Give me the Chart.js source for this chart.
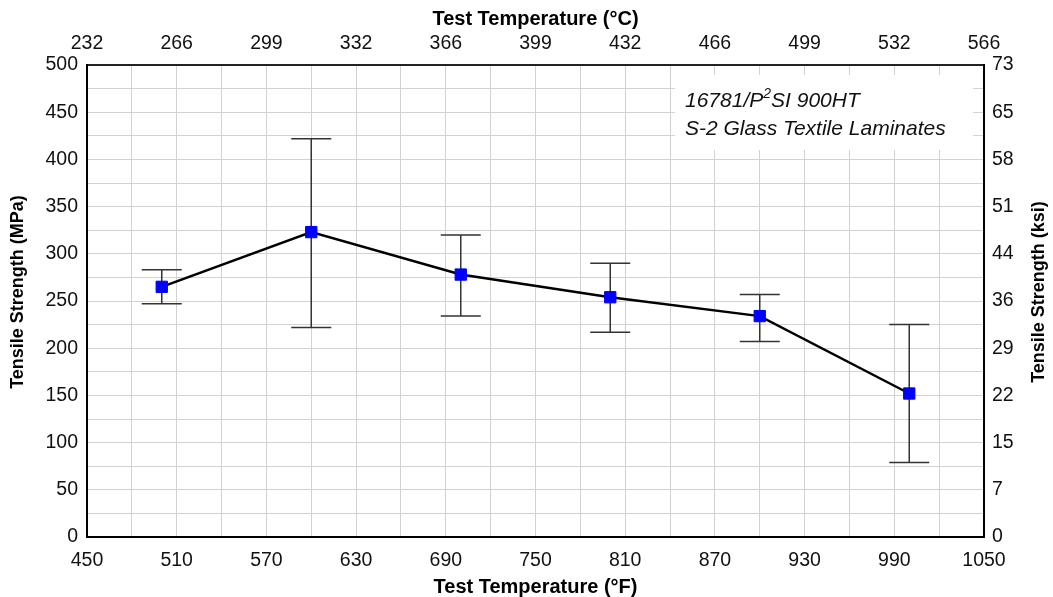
<!DOCTYPE html>
<html>
<head>
<meta charset="utf-8">
<script src="https://cdn.jsdelivr.net/npm/chart.js@4/dist/chart.umd.min.js"></script>
<style>
  html, body { margin: 0; padding: 0; background: #fff; }
  canvas { display: block; }
</style>
</head>
<body>
<canvas id="chart" width="1053" height="597"></canvas>
<script>
// test temperature (°F) and tensile strength (MPa)
const tempF = [500, 600, 700, 800, 900, 1000];
const strength = [265, 323, 278, 254, 234, 152];
const errHigh = [283, 422, 320, 290, 257, 225];
const errLow = [247, 222, 234, 217, 207, 79];

// secondary axis labels
const celsiusLabels = ['232', '266', '299', '332', '366', '399', '432', '466', '499', '532', '566'];
const ksiLabels = ['0', '7', '15', '22', '29', '36', '44', '51', '58', '65', '73'];

const FONT = "'Liberation Sans', Arial, sans-serif";
const tickFont = { family: FONT, size: 19.5, lineHeight: 1 };
const titleFont = { family: FONT, size: 20, weight: 'bold', lineHeight: 1 };
const gridColor = '#d2d2d2';

// draw the min/max bars behind the line
const errorBars = {
    id: 'errorBars',
    beforeDatasetsDraw(chart) {
        const ctx = chart.ctx;
        const x = chart.scales.x, y = chart.scales.y;
        ctx.save();
        ctx.strokeStyle = '#333';
        ctx.lineWidth = 1.5;
        tempF.forEach((t, i) => {
            const px = x.getPixelForValue(t);
            const top = y.getPixelForValue(errHigh[i]);
            const bot = y.getPixelForValue(errLow[i]);
            ctx.beginPath();
            ctx.moveTo(px, top); ctx.lineTo(px, bot);
            ctx.moveTo(px - 20, top); ctx.lineTo(px + 20, top);
            ctx.moveTo(px - 20, bot); ctx.lineTo(px + 20, bot);
            ctx.stroke();
        });
        ctx.restore();
    }
};

// material label + the two vertical axis titles (both read bottom to top)
const noteBox = {
    id: 'noteBox',
    afterDraw(chart) {
        const ctx = chart.ctx;
        const area = chart.chartArea;
        const right = area.right - 11, top = area.top + 10;
        const w = 298, h = 75;
        ctx.save();
        ctx.fillStyle = '#fff';
        ctx.fillRect(right - w, top, w, h);
        ctx.fillStyle = '#111';
        ctx.textBaseline = 'alphabetic';
        ctx.font = 'italic 21px ' + FONT;
        let tx = right - w + 10;
        const y1 = top + 32, y2 = top + 60;
        let part = '16781/P';
        ctx.fillText(part, tx, y1);
        tx += ctx.measureText(part).width;
        ctx.font = 'italic 14px ' + FONT;
        ctx.fillText('2', tx, y1 - 9);
        tx += ctx.measureText('2').width;
        ctx.font = 'italic 21px ' + FONT;
        ctx.fillText('SI 900HT', tx, y1);
        ctx.fillText('S-2 Glass Textile Laminates', right - w + 10, y2);

        const cy = (area.top + area.bottom) / 2 - 9;
        ctx.fillStyle = '#000';
        ctx.font = 'bold 18px ' + FONT;
        ctx.textAlign = 'center';
        ctx.textBaseline = 'middle';
        [[18.5, 'Tensile Strength (MPa)'], [1039.5, 'Tensile Strength (ksi)']].forEach(([x, label]) => {
            ctx.save();
            ctx.translate(x, cy);
            ctx.rotate(-Math.PI / 2);
            ctx.fillText(label, 0, 0);
            ctx.restore();
        });
        ctx.restore();
    }
};

new Chart(document.getElementById('chart'), {
    type: 'line',
    data: {
        datasets: [{
            data: tempF.map((t, i) => ({ x: t, y: strength[i] })),
            borderColor: '#000',
            borderWidth: 2.5,
            tension: 0,
            pointStyle: 'rect',
            pointRadius: 8,
            pointHoverRadius: 8,
            pointBackgroundColor: '#0000ff',
            pointBorderColor: '#0000ff',
            pointBorderWidth: 1
        }]
    },
    options: {
        responsive: false,
        animation: false,
        events: [],
        layout: { padding: 0 },
        plugins: { legend: { display: false }, tooltip: { enabled: false } },
        scales: {
            x: {
                type: 'linear',
                position: 'bottom',
                min: 450, max: 1050,
                afterFit(s) { s.height = 60; },
                ticks: {
                    stepSize: 30, autoSkip: false, maxRotation: 0,
                    padding: 14, color: '#111', font: tickFont,
                    callback: (v) => ((v - 450) % 60 === 0 ? v : '')
                },
                grid: { color: gridColor, drawTicks: false },
                border: { color: '#000', width: 2 },
                title: { display: true, text: 'Test Temperature (°F)', color: '#000', font: titleFont, padding: 0 }
            },
            x2: {
                type: 'linear',
                position: 'top',
                min: 450, max: 1050,
                afterFit(s) { s.height = 65; },
                ticks: {
                    stepSize: 60, autoSkip: false, maxRotation: 0,
                    padding: 12, color: '#111', font: tickFont,
                    callback: (v, i) => celsiusLabels[i]
                },
                grid: { display: false, drawTicks: false },
                border: { color: '#222', width: 2 },
                title: { display: true, text: 'Test Temperature (°C)', color: '#000', font: titleFont, padding: { top: 9.5, bottom: 0 } }
            },
            y: {
                position: 'left',
                min: 0, max: 500,
                afterFit(s) { s.width = 87; },
                ticks: {
                    stepSize: 25, autoSkip: false,
                    padding: 9, color: '#111', font: tickFont,
                    callback: (v) => (v % 50 === 0 ? v : '')
                },
                grid: { color: gridColor, drawTicks: false },
                border: { color: '#000', width: 2 }
            },
            y2: {
                position: 'right',
                min: 0, max: 500,
                afterFit(s) { s.width = 69; },
                ticks: {
                    stepSize: 50, autoSkip: false,
                    padding: 8, color: '#111', font: tickFont,
                    callback: (v, i) => ksiLabels[i]
                },
                grid: { display: false, drawTicks: false },
                border: { color: '#000', width: 2 }
            }
        }
    },
    plugins: [errorBars, noteBox]
});
</script>
</body>
</html>
